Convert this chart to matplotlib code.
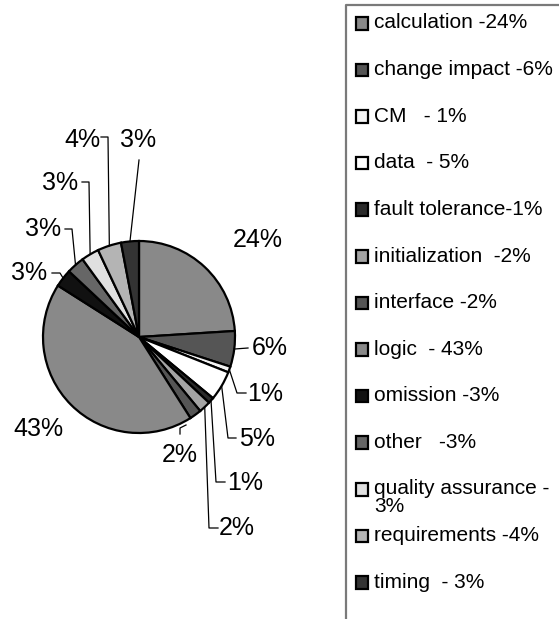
import matplotlib.pyplot as plt
import numpy as np
from matplotlib.patches import Rectangle

plt.rcParams['font.family'] = ['Liberation Sans', 'DejaVu Sans']

# data
categories = ['calculation', 'change impact', 'CM', 'data', 'fault tolerance',
              'initialization', 'interface', 'logic', 'omission', 'other',
              'quality assurance', 'requirements', 'timing']
shares = [24, 6, 1, 5, 1, 2, 2, 43, 3, 3, 3, 4, 3]
legend_labels = ['calculation -24%', 'change impact -6%', 'CM   - 1%', 'data  - 5%',
                 'fault tolerance-1%', 'initialization  -2%', 'interface -2%',
                 'logic  - 43%', 'omission -3%', 'other   -3%',
                 'quality assurance -\n3%', 'requirements -4%', 'timing  - 3%']
colors = ['#898989', '#555555', '#f4f4f4', '#ffffff', '#2a2a2a', '#a4a4a4',
          '#555555', '#898989', '#111111', '#666666', '#e0e0e0', '#b4b4b4', '#333333']

W, H = 559, 619
fig = plt.figure(figsize=(W / 100, H / 100), dpi=100)
ax = fig.add_axes([0, 0, 1, 1])

def Y(py):
    # pixel rows from the top -> data y
    return H - py

cx, cy, r = 139, 337, 96
wedges, _ = ax.pie(shares, colors=colors, startangle=90, counterclock=False,
                   center=(cx, Y(cy)), radius=r,
                   wedgeprops=dict(edgecolor='black', linewidth=1.6))
ax.set_xlim(0, W)
ax.set_ylim(0, H)
ax.set_aspect('auto')
ax.axis('off')

# label centres (px), leader points, and whether the leader starts at the wedge edge
label_layout = [
    ((258, 240), None, True),
    ((270, 348), [(248, 348)], True),
    ((265, 394), [(237, 393), (246, 393)], True),
    ((257, 439), [(228, 438), (236, 438)], True),
    ((245, 483), [(216, 482), (225, 482)], True),
    ((237, 528), [(209, 528), (218, 528)], True),
    ((180, 455), [(186, 425), (180, 428), (180, 434)], False),
    ((38, 429), None, True),
    ((29, 273), [(60, 273), (52, 273)], True),
    ((43, 229), [(72, 229), (65, 229)], True),
    ((60, 183), [(89, 182), (82, 182)], True),
    ((82, 140), [(108, 137), (101, 137)], True),
    ((138, 140), [(139, 160)], True),
]

cum = np.cumsum([0] + shares)
total = float(sum(shares))
for i, v in enumerate(shares):
    (tx, ty), leader, from_wedge = label_layout[i]
    ax.text(tx, Y(ty), f'{v}%', fontsize=18, ha='center', va='center')
    if leader:
        pts = list(leader)
        if from_wedge:
            mid = np.deg2rad(90 - 360 * (cum[i] + v / 2) / total)
            pts = [(cx + r * np.cos(mid), cy - r * np.sin(mid))] + pts
        ax.plot([p[0] for p in pts], [Y(p[1]) for p in pts], color='black', lw=0.9)

# legend frame, cut off at right and bottom like the original
ax.plot([346, 346, W + 5], [Y(H + 5), Y(5), Y(5)], color='#7a7a7a', lw=1.6)

for i, lab in enumerate(legend_labels):
    yy = 23 + 46.6 * i
    ax.add_patch(Rectangle((355.5, Y(yy + 6.5)), 12.5, 12.5, facecolor=colors[i],
                           edgecolor='black', lw=1.6))
    for j, line in enumerate(lab.split('\n')):
        ax.text(374, Y(yy + 18 * j), line, fontsize=15, ha='left', va='center')

fig.savefig('out.png', dpi=100)
